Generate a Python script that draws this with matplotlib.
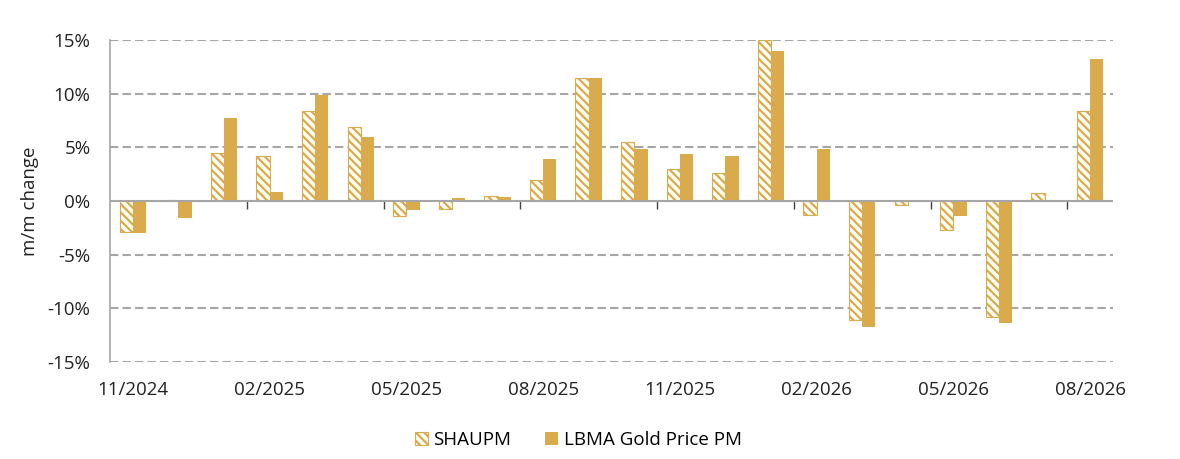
import numpy as np
import matplotlib
matplotlib.use("Agg")
import matplotlib.pyplot as plt
from matplotlib.ticker import FuncFormatter, FixedLocator, NullFormatter

plt.rcParams['font.family'] = ['Open Sans', 'DejaVu Sans']
plt.rcParams['hatch.linewidth'] = 1.6

months = ['11/2024', '12/2024', '01/2025', '02/2025', '03/2025', '04/2025',
          '05/2025', '06/2025', '07/2025', '08/2025', '09/2025', '10/2025',
          '11/2025', '12/2025', '01/2026', '02/2026', '03/2026', '04/2026',
          '05/2026', '06/2026', '07/2026', '08/2026']

# m/m change in %
shaupm = [-2.9, 0.1, 4.5, 4.2, 8.4, 6.9, -1.4, -0.7, 0.5, 2.0, 11.5, 5.5,
          3.0, 2.6, 15.0, -1.35, -11.1, -0.35, -2.7, -10.8, 0.7, 8.4]
lbma = [-3.0, -1.6, 7.7, 0.8, 9.9, 6.0, -0.8, 0.3, 0.35, 3.9, 11.5, 4.85,
        4.4, 4.2, 14.0, 4.8, -11.7, 0.05, -1.4, -11.4, 0.02, 13.2]

gold = '#DAAB4D'
grid_col = '#A6A6A6'

x = np.arange(len(months))
w = 0.29

fig = plt.figure(figsize=(11.8, 4.59), dpi=100)
ax = fig.add_axes([110/1180, 1-362/459, 1003/1180, 322/459])

ax.bar(x - w/2, shaupm, w, facecolor='#FFFDF4', edgecolor=gold,
       hatch='\\\\\\\\', linewidth=0.8, label='SHAUPM', zorder=3)
ax.bar(x + w/2, lbma, w, color=gold, label='LBMA Gold Price PM', zorder=3)

ax.set_ylim(-15, 15)
ax.set_xlim(-0.5, len(months) - 0.5)
ax.set_yticks(np.arange(-15, 16, 5))
ax.yaxis.set_major_formatter(FuncFormatter(lambda v, p: f'{v:.0f}%'))
for yv in np.arange(-15, 16, 5):
    if yv != 0:
        ax.axhline(yv, color=grid_col, lw=1.5, ls=(0, (4, 2)), zorder=1)
ax.axhline(0, color=grid_col, lw=1.5, zorder=4)

# labels every 3 months, no tick marks
ax.set_xticks(x[::3])
ax.set_xticklabels(months[::3])
ax.tick_params(axis='x', length=0, pad=14, labelsize=13.5, colors='#222222')
ax.tick_params(axis='y', length=0, pad=14, labelsize=13.5, colors='#222222')

# tick marks on the zero line between groups, pointing down
sec = ax.secondary_xaxis(0.5)
sec.xaxis.set_major_locator(FixedLocator(x[2::3] + 0.5))
sec.xaxis.set_major_formatter(NullFormatter())
sec.tick_params(axis='x', which='both', length=6, width=1, color='#444444',
                direction='in')
sec.spines[:].set_visible(False)

for s in ['top', 'right', 'bottom']:
    ax.spines[s].set_visible(False)
ax.spines['left'].set_color(grid_col)
ax.spines['left'].set_linewidth(1.2)

ax.set_ylabel('m/m change', fontsize=13.5, color='#222222', labelpad=6)

fig.legend(loc='center', bbox_to_anchor=(0.49, 0.041), ncol=2, frameon=False,
           fontsize=13.5, handlelength=0.7, handleheight=0.7,
           handletextpad=0.3, columnspacing=1.8)

fig.savefig('out.png', dpi=100)
